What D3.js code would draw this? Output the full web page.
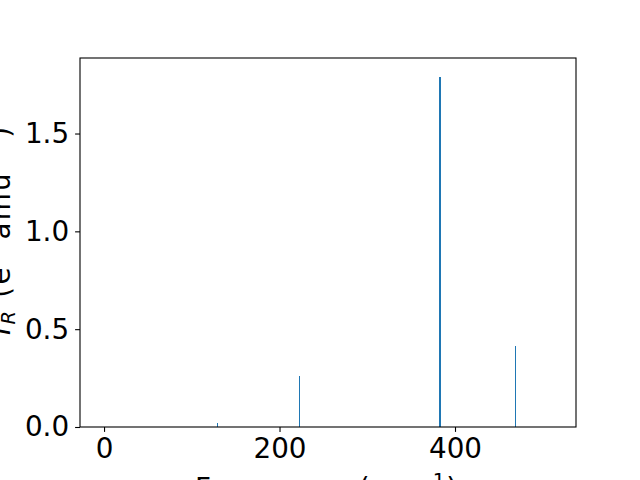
<!DOCTYPE html>
<html>
<head>
<meta charset="utf-8">
<script src="https://cdn.jsdelivr.net/npm/d3@7"></script>
<style>
  body { margin: 0; background: #fff; }
  svg { display: block; font-family: "DejaVu Sans", sans-serif; }
</style>
</head>
<body>
<div id="chart"></div>
<script>
// vibrational modes (cm^-1) and their IR intensities (e^2 amu^-1)
const frequencies = [128.8, 222.2, 382.6, 383.6, 468.4];
const intensities = [0.02, 0.26, 1.79, 1.79, 0.413];
const xTicks = [0, 200, 400];
const yTicks = [0.0, 0.5, 1.0, 1.5];

const width = 640, height = 480;
const margin = {top: 58, right: 64, bottom: 53, left: 80};
const fontSize = 27.8;

const svg = d3.select("#chart").append("svg")
    .attr("width", width)
    .attr("height", height)
    .attr("viewBox", [0, 0, width, height]);

const x = d3.scaleLinear()
    .domain([-27.4, 537.9])
    .range([margin.left, width - margin.right]);

const y = d3.scaleLinear()
    .domain([0, 1.886])
    .range([height - margin.bottom, margin.top]);

// sticks
svg.append("g")
    .attr("shape-rendering", "crispEdges")
    .selectAll("line")
    .data(frequencies)
    .join("line")
    .attr("x1", d => Math.floor(x(d)) + 0.5)
    .attr("x2", d => Math.floor(x(d)) + 0.5)
    .attr("y1", y(0))
    .attr("y2", (d, i) => y(intensities[i]))
    .attr("stroke", "#1f77b4")
    .attr("stroke-width", 1);

// axes
svg.append("g")
    .attr("transform", `translate(0,${height - margin.bottom})`)
    .call(d3.axisBottom(x).tickValues(xTicks).tickSize(4.9).tickPadding(6).tickFormat(d3.format("d")))
    .call(g => g.select(".domain").remove())
    .call(g => g.selectAll(".tick line").attr("stroke-width", 1.1))
    .call(g => g.selectAll("text").attr("font-size", fontSize).attr("font-family", "DejaVu Sans").attr("fill", "#000"));

svg.append("g")
    .attr("transform", `translate(${margin.left},0)`)
    .call(d3.axisLeft(y).tickValues(yTicks).tickSize(4.9).tickPadding(6).tickFormat(d3.format(".1f")))
    .call(g => g.select(".domain").remove())
    .call(g => g.selectAll(".tick line").attr("stroke-width", 1.1))
    .call(g => g.selectAll("text").attr("font-size", fontSize).attr("font-family", "DejaVu Sans").attr("fill", "#000"));

// frame
svg.append("rect")
    .attr("x", margin.left)
    .attr("y", margin.top)
    .attr("width", width - margin.left - margin.right)
    .attr("height", height - margin.top - margin.bottom)
    .attr("fill", "none")
    .attr("stroke", "#000")
    .attr("stroke-width", 1.1);

// x label
const xl = svg.append("text")
    .attr("x", 195)
    .attr("y", 498)
    .attr("font-size", fontSize)
    .attr("textLength", 262)
    .attr("lengthAdjust", "spacing");
xl.append("tspan").text("Frequency (cm");
xl.append("tspan").attr("font-size", fontSize * 0.7).attr("dy", -11).text("\u22121");
xl.append("tspan").attr("dy", 11).text(")");

// y label
const yl = svg.append("text")
    .attr("transform", "translate(10,335) rotate(-90)")
    .attr("font-size", fontSize)
    .attr("textLength", 208)
    .attr("lengthAdjust", "spacing");
yl.append("tspan").attr("font-style", "italic").text("I");
yl.append("tspan").attr("font-style", "italic").attr("font-size", fontSize * 0.7).attr("dy", 5).text("R");
yl.append("tspan").attr("dy", -5).text(" (e");
yl.append("tspan").attr("font-size", fontSize * 0.7).attr("dy", -11).text("2");
yl.append("tspan").attr("dy", 11).text(" amu");
yl.append("tspan").attr("font-size", fontSize * 0.7).attr("dy", -11).text("\u22121");
yl.append("tspan").attr("dy", 11).text(")");
</script>
</body>
</html>
